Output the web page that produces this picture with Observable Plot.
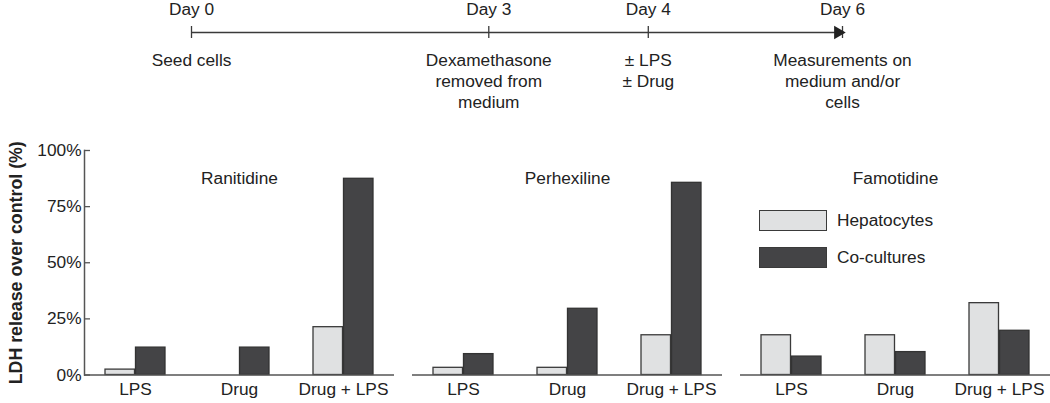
<!DOCTYPE html>
<html>
<head>
<meta charset="utf-8">
<script src="https://cdn.jsdelivr.net/npm/d3@7"></script>
<script src="https://cdn.jsdelivr.net/npm/@observablehq/plot@0.6"></script>
<style>
  html, body { margin: 0; padding: 0; background: #fff; }
  #wrap { position: relative; width: 1050px; height: 403px; overflow: hidden;
          font-family: "Liberation Sans", Arial, Helvetica, sans-serif; color: #222; }
  #wrap svg { display: block; }
  #legend { position: absolute; left: 759px; top: 210px; font-size: 17.3px; }
  #legend .row { display: flex; align-items: center; height: 21px; margin-bottom: 15.5px; }
  #legend .sw { width: 66px; height: 19px; border: 1.3px solid #3a3a3a; margin-right: 10px; }
</style>
</head>
<body>
<div id="wrap">
  <div id="timeline"></div>
  <div id="chart"></div>
  <div id="legend"></div>
</div>
<script>
// ---- Timeline data ----
const days = [0, 3, 4, 6];
const dayLabels = ["Day 0", "Day 3", "Day 4", "Day 6"];
const dayEvents = ["Seed cells", "Dexamethasone\nremoved from\nmedium", "± LPS\n± Drug", "Measurements on\nmedium and/or\ncells"];

// ---- Bar chart data ----
const drugs = ["Ranitidine", "Perhexiline", "Famotidine"];
const conditions = ["LPS", "Drug", "Drug + LPS"];
const seriesNames = ["Hepatocytes", "Co-cultures"];
const seriesFills = ["#e0e1e2", "#444446"];
const yTicks = [0, 25, 50, 75, 100];
const yLabel = "LDH release over control (%)";

const hepRanitidine  = [2.4, 0, 21.3];
const coRanitidine   = [12.2, 12.2, 87.4];
const hepPerhexiline = [3.2, 3.2, 17.7];
const coPerhexiline  = [9.3, 29.5, 85.6];
const hepFamotidine  = [17.7, 17.7, 32.0];
const coFamotidine   = [8.2, 10.2, 19.7];

const valuesByDrug = {
  "Ranitidine":  [hepRanitidine, coRanitidine],
  "Perhexiline": [hepPerhexiline, coPerhexiline],
  "Famotidine":  [hepFamotidine, coFamotidine]
};

const rows = [];
for (const drug of drugs) {
  valuesByDrug[drug].forEach((vals, si) => {
    vals.forEach((v, ci) => rows.push({drug, condition: conditions[ci], series: seriesNames[si], value: v}));
  });
}

const font = "'Liberation Sans', Arial, Helvetica, sans-serif";
const ink = "#222";
const lineCol = "#3a3a3a";

// schematic (non-proportional) spacing of the timeline
const schematic = d3.scaleLinear().domain(days).range([0, 2.74, 4.21, 6]);

// ---- Timeline ----
const tl = Plot.plot({
  width: 1050, height: 128,
  marginTop: 0, marginBottom: 64, marginLeft: 0, marginRight: 0,
  style: {fontFamily: font, fontSize: "17.3px", color: ink, background: "white", overflow: "visible"},
  x: {type: "linear", domain: [0, 6], range: [191, 842], transform: schematic, axis: null},
  marks: [
    Plot.ruleY([{a: days[0], b: days[days.length - 1]}], {x1: "a", x2: "b", y: null, stroke: lineCol, strokeWidth: 1.3}),
    Plot.ruleX(days, {x: d => d, stroke: lineCol, strokeWidth: 1.3, insetTop: 26, insetBottom: 26}),
    Plot.dot([days[days.length - 1]], {x: d => d, symbol: "triangle", rotate: 90, r: 5, fill: ink, stroke: null, dx: -4.5}),
    Plot.text(days, {x: d => d, text: (d, i) => dayLabels[i], dy: -23.5, lineAnchor: "middle", fill: ink}),
    Plot.text(days, {x: d => d, text: (d, i) => dayEvents[i], dy: 18, lineAnchor: "top", lineHeight: 1.23, fill: ink})
  ]
});
document.getElementById("timeline").appendChild(tl);

// ---- Grouped bars ----
const chart = Plot.plot({
  width: 1050, height: 275,
  marginLeft: 84, marginRight: 0, marginTop: 22, marginBottom: 28.5,
  style: {fontFamily: font, fontSize: "17.3px", color: ink, background: "white", overflow: "visible"},
  fx: {domain: drugs, paddingInner: 0.055, paddingOuter: 0, axis: null, label: null},
  x: {domain: conditions, paddingInner: 0.419, paddingOuter: 0.186, label: null},
  y: {domain: [0, 100], label: null},
  marks: [
    Plot.barY(rows.filter(d => d.series === seriesNames[0]), {
      fx: "drug", x: "condition", y: "value", fill: seriesFills[0], stroke: lineCol, strokeWidth: 1.3, insetRight: 30.5
    }),
    Plot.barY(rows.filter(d => d.series === seriesNames[1]), {
      fx: "drug", x: "condition", y: "value", fill: seriesFills[1], stroke: "#333", strokeWidth: 1.3, insetLeft: 30.5
    }),
    Plot.ruleY([0], {stroke: "#555", strokeWidth: 1.5}),
    Plot.frame({anchor: "left", facetAnchor: "left", stroke: "#555", strokeWidth: 1.5}),
    Plot.axisX({tickSize: 0, tickPadding: 8, label: null, fill: ink}),
    Plot.axisY({ticks: yTicks, tickSize: 0, tickPadding: 3, tickFormat: d => d + "%", label: null, fill: ink}),
    Plot.axisY({ticks: yTicks, tickSize: 6, dx: 6, tickFormat: () => "", label: null, stroke: "#555", strokeWidth: 1.3}),
    Plot.text(drugs, {fx: d => d, text: d => d, frameAnchor: "top", dy: 28, lineAnchor: "middle", fill: ink}),
    Plot.text([yLabel], {fx: () => drugs[0], text: d => d, frameAnchor: "left", textAnchor: "middle", rotate: -90, dx: -68, fontSize: 17.8, fontWeight: "bold", fill: ink})
  ]
});
document.getElementById("chart").appendChild(chart);

// ---- Legend ----
const legend = document.getElementById("legend");
seriesNames.forEach((name, i) => {
  const row = document.createElement("div");
  row.className = "row";
  const sw = document.createElement("div");
  sw.className = "sw";
  sw.style.background = seriesFills[i];
  const label = document.createElement("span");
  label.textContent = name;
  row.appendChild(sw);
  row.appendChild(label);
  legend.appendChild(row);
});
</script>
</body>
</html>
